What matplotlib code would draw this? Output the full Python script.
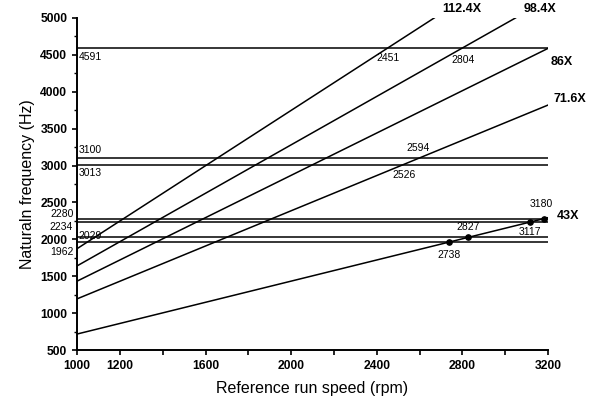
import numpy as np
import matplotlib.pyplot as plt

plt.rcParams['font.family'] = ['Liberation Sans', 'DejaVu Sans']

# engine orders (multiples of run speed)
orders = [112.4, 98.4, 86, 71.6, 43]
order_labels = ['112.4X', '98.4X', '86X', '71.6X', '43X']

# natural frequencies (Hz)
nat_freqs = [4591, 3100, 3013, 2280, 2234, 2029, 1962]

# crossing speeds (rpm) and the frequency each sits on
cross_rpm = [2451, 2804, 2594, 2526, 3180, 3117, 2827, 2738]
cross_freq = [4591, 4591, 3100, 3013, 2280, 2234, 2029, 1962]
cross_marked = [False, False, False, False, True, True, True, True]

rpm_min, rpm_max = 1000, 3200
f_max = 5000

fig = plt.figure(figsize=(5.93, 4.07), dpi=100)
ax = fig.add_axes([0.130, 0.140, 0.794, 0.816])

# horizontal natural-frequency lines
for f in nat_freqs:
    ax.plot([rpm_min, rpm_max], [f, f], color='black', lw=1.1)

# order lines f = k * rpm / 60, clipped at 5000 Hz
for k in orders:
    end = min(rpm_max, f_max * 60 / k)
    rpm = np.array([rpm_min, end])
    ax.plot(rpm, k * rpm / 60, color='black', lw=1.1)

# order labels at line ends
lab_off = {'112.4X': (6, 2), '98.4X': (6, 2), '86X': (2, -14), '71.6X': (4, 0), '43X': (6, -3)}
for k, lab in zip(orders, order_labels):
    end = min(rpm_max, f_max * 60 / k)
    dx, dy = lab_off[lab]
    ax.annotate(lab, (end, k * end / 60), xytext=(dx, dy), textcoords='offset points',
                fontsize=9, fontweight='bold', ha='left', va='bottom')

# left-side frequency labels
left_lab = {4591: (1, -10), 3100: (1, 2), 3013: (1, -10), 2280: (-19, -0.5),
            2234: (-20, -7), 2029: (1, -3), 1962: (-19, -11)}
for f in nat_freqs:
    dx, dy = left_lab[f]
    ax.annotate(str(f), (rpm_min, f), xytext=(dx, dy), textcoords='offset points',
                fontsize=7.5, ha='left', va='bottom')

# crossing speed labels
cross_off = {2451: (0, -11), 2804: (0, -12), 2594: (0, 4), 2526: (0, -11),
             3180: (-2, 7), 3117: (0, -11), 2827: (0, 4), 2738: (0, -13)}
for r, f, m in zip(cross_rpm, cross_freq, cross_marked):
    if m:
        ax.plot(r, f, 'o', color='black', ms=3.8)
    dx, dy = cross_off[r]
    ax.annotate(str(r), (r, f), xytext=(dx, dy), textcoords='offset points',
                fontsize=7.5, ha='center', va='bottom')

ax.set_xlim(rpm_min, rpm_max)
ax.set_ylim(500, f_max)
ax.set_xticks(np.arange(1000, 3201, 200))
ax.set_xticklabels(['1000', '1200', '', '1600', '', '2000', '', '2400', '', '2800', '', '3200'])
ax.set_yticks(np.arange(500, 5001, 500))
ax.set_yticks(np.arange(500, 5001, 250), minor=True)
ax.tick_params(labelsize=8.7, width=1.2)
ax.tick_params(which='minor', length=2.5, width=1)
for lbl in ax.get_xticklabels() + ax.get_yticklabels():
    lbl.set_fontweight('bold')
for s in ['top', 'right']:
    ax.spines[s].set_visible(False)
for s in ['left', 'bottom']:
    ax.spines[s].set_linewidth(1.4)

ax.set_xlabel('Reference run speed (rpm)', fontsize=11.5, labelpad=7)
ax.set_ylabel('Naturaln frequency (Hz)', fontsize=11.5, labelpad=4)

fig.savefig('out.png', dpi=100)
